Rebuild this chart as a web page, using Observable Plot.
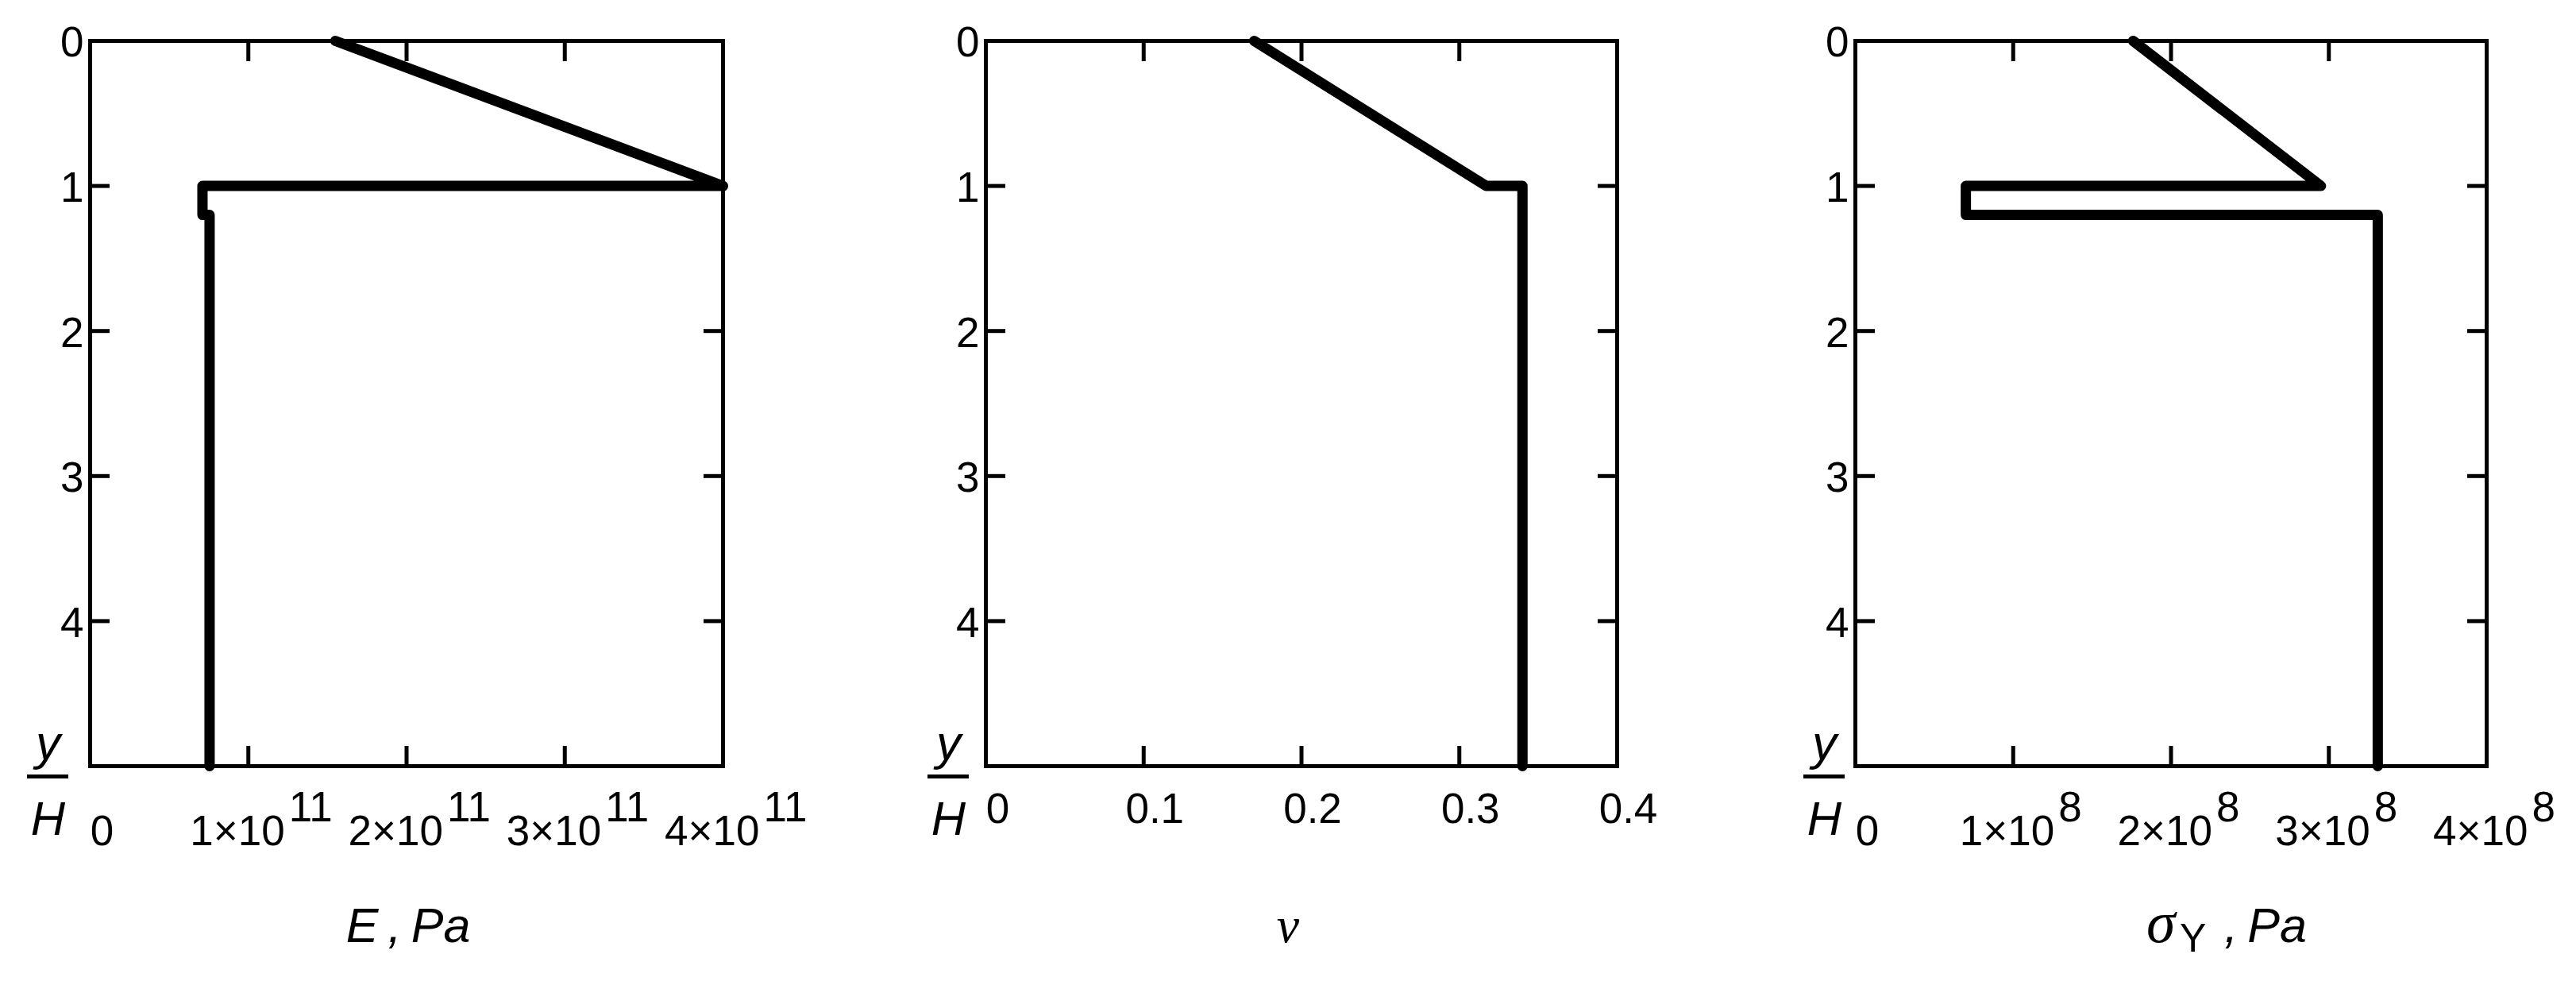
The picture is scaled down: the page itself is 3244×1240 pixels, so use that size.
<!DOCTYPE html>
<html><head><meta charset="utf-8">
<script src="https://cdn.jsdelivr.net/npm/d3@7"></script>
<script src="https://cdn.jsdelivr.net/npm/@observablehq/plot@0.6"></script>
<style>
html,body{margin:0;padding:0;background:#fff;}
#wrap{display:flex;width:3244px;height:1240px;}
#wrap svg{max-width:none;flex:none;}
</style></head><body><div id="wrap"></div>
<script>
// ---- data ----
const yTicks = [0, 1, 2, 3, 4];

const depthE = [0, 1, 1, 1.2, 1.2, 5];
const modulusE = [1.55e11, 4.0e11, 0.71e11, 0.71e11, 0.755e11, 0.755e11];
const eTicks = [0, 1e11, 2e11, 3e11, 4e11];

const depthNu = [0, 1, 1, 5];
const poisson = [0.17, 0.317, 0.34, 0.34];
const nuTicks = [0, 0.1, 0.2, 0.3, 0.4];

const depthSigma = [0, 1, 1, 1.2, 1.2, 5];
const yieldStress = [1.76e8, 2.95e8, 0.70e8, 0.70e8, 3.31e8, 3.31e8];
const sigmaTicks = [0, 1e8, 2e8, 3e8, 4e8];

const SANS = "'Liberation Sans', Arial, Helvetica, sans-serif";
const SERIF = "'Liberation Serif', 'Times New Roman', serif";

function makePanel(cfg) {
  const pts = cfg.xs.map((v, i) => ({v, d: cfg.ys[i]}));
  const innerX = cfg.ticks.slice(1, -1);
  const innerY = yTicks.slice(1);
  const zero = cfg.ticks.filter(t => t === 0);
  const rest = cfg.ticks.filter(t => t !== 0);
  const frameW = cfg.width - 113 - cfg.marginRight;
  const tk = {strokeWidth: 5, tickFormat: () => "", label: null, tickSize: 25};
  const marks = [
    Plot.axisX({anchor: "bottom", ticks: innerX, dy: -25, ...tk}),
    Plot.axisX({anchor: "top", ticks: innerX, dy: 25, ...tk}),
    Plot.axisY({anchor: "left", ticks: innerY, dx: 25, ...tk}),
    Plot.axisY({anchor: "right", ticks: innerY, dx: -25, ...tk}),
    Plot.axisY({anchor: "left", ticks: yTicks, tickSize: 0, tickPadding: 8, dy: 3, fontSize: 53, label: null, tickFormat: d => String(d)}),
    Plot.frame({strokeWidth: 5}),
    Plot.line(pts, {x: "v", y: "d", stroke: "black", strokeWidth: 13, strokeLinejoin: "round", strokeLinecap: "round"}),
    Plot.text(zero, {x: d => d, text: () => "0", frameAnchor: "bottom", lineAnchor: "bottom", dy: cfg.exp ? 99 : 71, dx: 15, fontSize: 53})
  ];
  if (cfg.exp) {
    const p = Math.pow(10, cfg.exp);
    marks.push(
      Plot.text(rest, {x: d => d, text: d => `${Math.round(d / p)}×10`, frameAnchor: "bottom", lineAnchor: "bottom", textAnchor: "end", dy: 99, dx: cfg.mantDx, fontSize: 53}),
      Plot.text(rest, {x: d => d, text: () => String(cfg.exp), frameAnchor: "bottom", lineAnchor: "bottom", textAnchor: "start", dy: 69, dx: cfg.mantDx + 5, fontSize: 53})
    );
  } else {
    marks.push(
      Plot.text(rest, {x: d => d, text: d => String(d), frameAnchor: "bottom", lineAnchor: "bottom", dy: 71, dx: 14, fontSize: 53})
    );
  }
  // y / H label with its fraction bar
  marks.push(
    Plot.text(["y"], {frameAnchor: "bottom-left", dx: cfg.yhDx, dy: -9, lineAnchor: "bottom", textAnchor: "middle", fontSize: 62, fontStyle: "italic"}),
    Plot.ruleY([5], {dy: 13, strokeWidth: 5, insetLeft: cfg.yhDx - 26, insetRight: frameW - cfg.yhDx - 26}),
    Plot.text(["H"], {frameAnchor: "bottom-left", dx: cfg.yhDx, dy: 86, lineAnchor: "bottom", textAnchor: "middle", fontSize: 60, fontStyle: "italic"})
  );
  for (const t of cfg.title) {
    marks.push(Plot.text([t.text], {frameAnchor: "bottom", lineAnchor: "bottom", textAnchor: t.anchor || "middle",
      dx: t.dx, dy: t.dy, fontSize: t.size, fontStyle: t.style || "normal", fontFamily: t.family || SANS}));
  }
  return Plot.plot({
    width: cfg.width, height: 1240,
    marginTop: 51, marginBottom: 276, marginLeft: 113, marginRight: cfg.marginRight,
    x: {domain: [0, cfg.ticks[cfg.ticks.length - 1]]},
    y: {domain: [0, 5], reverse: true},
    style: {fontFamily: SANS, fontSize: "53px", background: "white", color: "black", overflow: "visible"},
    marks
  });
}

const wrap = document.getElementById("wrap");
wrap.append(makePanel({
  xs: modulusE, ys: depthE, ticks: eTicks, exp: 11, mantDx: 46,
  width: 1128, marginRight: 218, yhDx: -53,
  title: [{text: "E\u2009,\u2009Pa", dx: 2, dy: 221, size: 61, style: "italic"}]
}));
wrap.append(makePanel({
  xs: poisson, ys: depthNu, ticks: nuTicks, exp: 0,
  width: 1095, marginRight: 187, yhDx: -47,
  title: [{text: "\u03BD", dx: -17, dy: 221, size: 64, style: "italic", family: SERIF}]
}));
wrap.append(makePanel({
  xs: yieldStress, ys: depthSigma, ticks: sigmaTicks, exp: 8, mantDx: 52,
  width: 1021, marginRight: 113, yhDx: -39,
  title: [
    {text: "\u03C3", dx: -31, dy: 221, size: 74, style: "italic", family: SERIF, anchor: "start"},
    {text: "Y", dx: 11, dy: 233, size: 50, anchor: "start"},
    {text: "\u2009,\u2009Pa", dx: 55, dy: 221, size: 61, style: "italic", anchor: "start"}
  ]
}));
</script></body></html>
